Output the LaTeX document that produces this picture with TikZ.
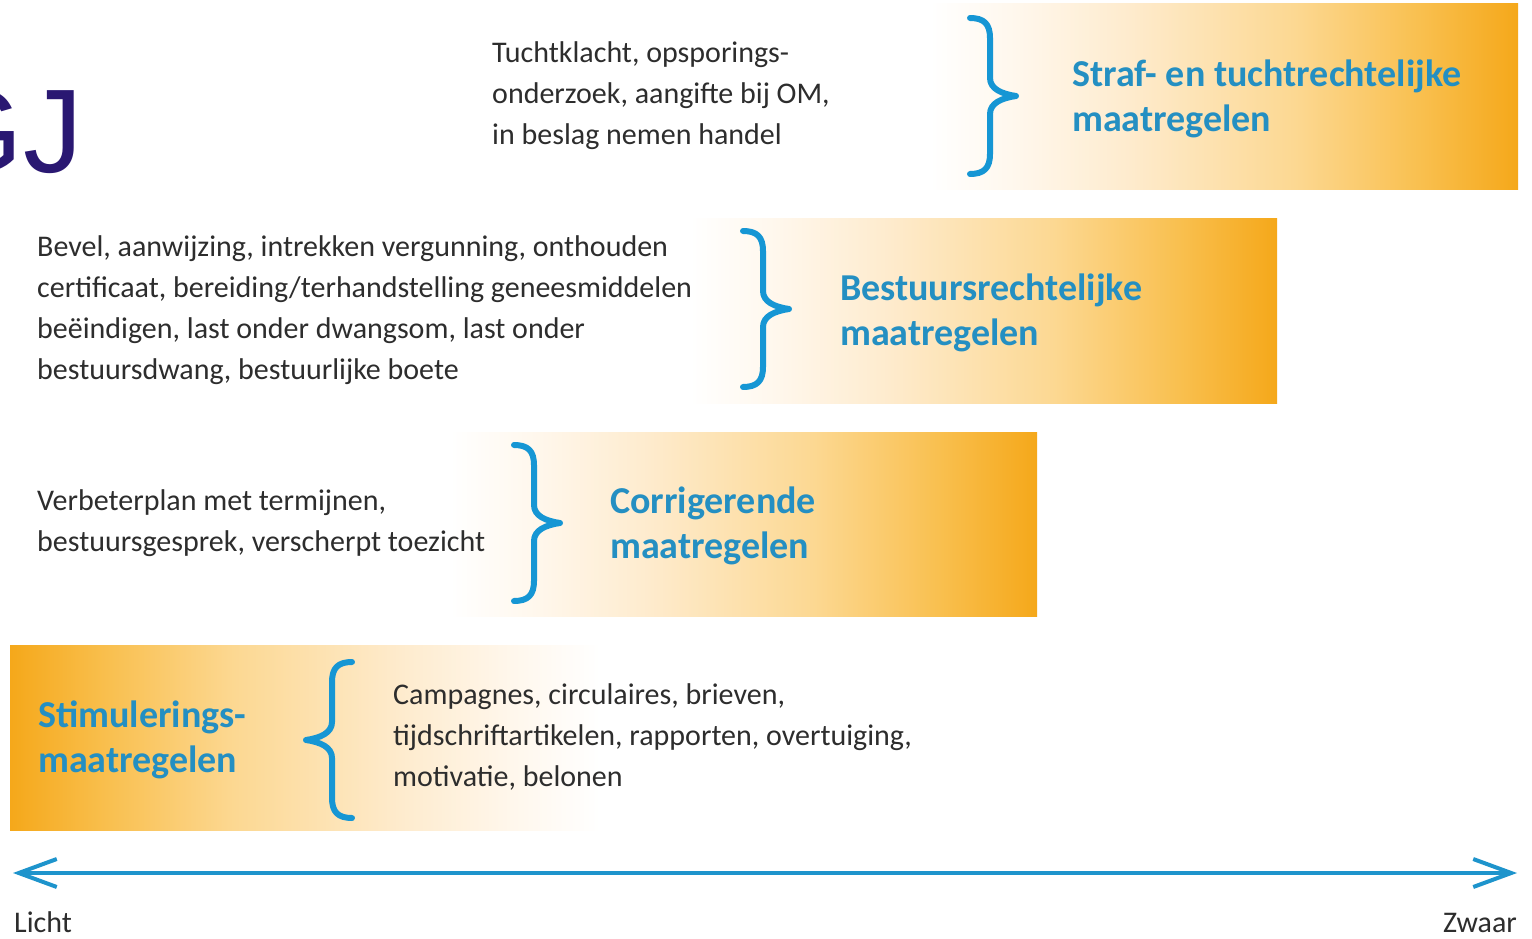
\documentclass[tikz,border=0pt]{standalone}
\usepackage{fontspec}
\setmainfont{Carlito}
\newfontfamily\logofont{Liberation Sans}
\usetikzlibrary{arrows.meta}

\definecolor{bandorange}{RGB}{245,168,26}
\definecolor{bandD}{RGB}{249,192,80}
\definecolor{bandC}{RGB}{252,216,146}
\definecolor{bandB}{RGB}{254,235,205}
\definecolor{bandA}{RGB}{255,247,236}
\definecolor{bodygray}{RGB}{45,45,45}
\definecolor{headblue}{RGB}{36,143,194}
\definecolor{braceblue}{RGB}{22,150,212}
\definecolor{axisblue}{RGB}{30,148,204}
\definecolor{logopurple}{RGB}{42,24,114}

% white on the light side, saturated orange on the heavy side
% (TikZ fits the central 25bp--75bp of an axis shading to the path)
\pgfdeclarehorizontalshading{bandfade}{100bp}{%
  color(0bp)=(white); color(25bp)=(white); color(32.5bp)=(bandA);
  color(42bp)=(bandB); color(56bp)=(bandC); color(66.5bp)=(bandD);
  color(75bp)=(bandorange); color(100bp)=(bandorange)}

\begin{document}
\begin{tikzpicture}[x=1pt,y=-1pt,
  bodytext/.style={font=\fontsize{30}{41}\selectfont, text=bodygray,
    align=left, inner sep=0pt},
  headtext/.style={font=\fontsize{38}{45}\selectfont\bfseries, text=headblue,
    align=left, inner sep=0pt},
  band/.style={shading=bandfade},
  bracestroke/.style={draw=braceblue, line width=6pt, line cap=round,
    line join=round},
  rbrace/.pic={
    \draw[bracestroke] (-20,-78) .. controls (-6,-78) and (0,-72) .. (0,-58)
      -- (0,-18) .. controls (0,-7) and (12,-2) .. (26,0)
      .. controls (12,2) and (0,7) .. (0,18)
      -- (0,58) .. controls (0,72) and (-6,78) .. (-20,78);
  },
  axis/.style={draw=axisblue, line width=4pt,
    arrows={Straight Barb[length=38pt,width=28pt]-Straight Barb[length=38pt,width=28pt]}},
  logo/.style={font=\logofont\fontsize{119}{119}\selectfont, text=logopurple,
    inner sep=0pt}
]
\useasboundingbox (0,0) rectangle (1532,939);
\clip (0,0) rectangle (1532,939);
\fill[white] (0,0) rectangle (1532,939);

% shaded bands, one per level of intervention
\path[band] (930,4) rectangle (1518,190);
\path[band] (690,218) rectangle (1277,403);
\path[band] (450,432) rectangle (1037,616);
\path[band, shading angle=180] (10,645) rectangle (600,830);

% logo fragment
\node[logo, anchor=base east] (logo) at (83,173) {GJ};

% multi-line nodes are placed by the baseline of their last line

% level 4: penal and disciplinary measures
\node[bodytext, anchor=base west] (straftxt) at (492,145)
  {Tuchtklacht, opsporings-\\onderzoek, aangifte bij OM,\\in beslag nemen handel};
\pic at (990,96) {rbrace};
\node[headtext, anchor=base west] (strafhd) at (1072,132)
  {Straf- en tuchtrechtelijke\\maatregelen};

% level 3: administrative measures
\node[bodytext, anchor=base west] (bestuurtxt) at (37,379)
  {Bevel, aanwijzing, intrekken vergunning, onthouden\\certificaat, bereiding/terhandstelling geneesmiddelen\\beëindigen, last onder dwangsom, last onder\\bestuursdwang, bestuurlijke boete};
\pic at (763,309) {rbrace};
\node[headtext, anchor=base west] (bestuurhd) at (840,345)
  {Bestuursrechtelijke\\maatregelen};

% level 2: corrective measures
\node[bodytext, anchor=base west] (corrtxt) at (37,551)
  {Verbeterplan met termijnen,\\bestuursgesprek, verscherpt toezicht};
\pic at (534,523) {rbrace};
\node[headtext, anchor=base west] (corrhd) at (610,558)
  {Corrigerende\\maatregelen};

% level 1: stimulating measures
\node[headtext, anchor=base west] (stimhd) at (38,772)
  {Stimulerings-\\maatregelen};
\pic[xscale=-1] at (332,740) {rbrace};
\node[bodytext, anchor=base west] (stimtxt) at (393,786)
  {Campagnes, circulaires, brieven,\\tijdschriftartikelen, rapporten, overtuiging,\\motivatie, belonen};

% light-to-heavy axis
\coordinate (licht) at (13,873);
\coordinate (zwaar) at (1517,873);
\draw[axis] (licht) -- (zwaar);
\node[bodytext, anchor=base west] (lichtlbl) at (14,932) {Licht};
\node[bodytext, anchor=base east] (zwaarlbl) at (1517,932) {Zwaar};
\end{tikzpicture}
\end{document}
